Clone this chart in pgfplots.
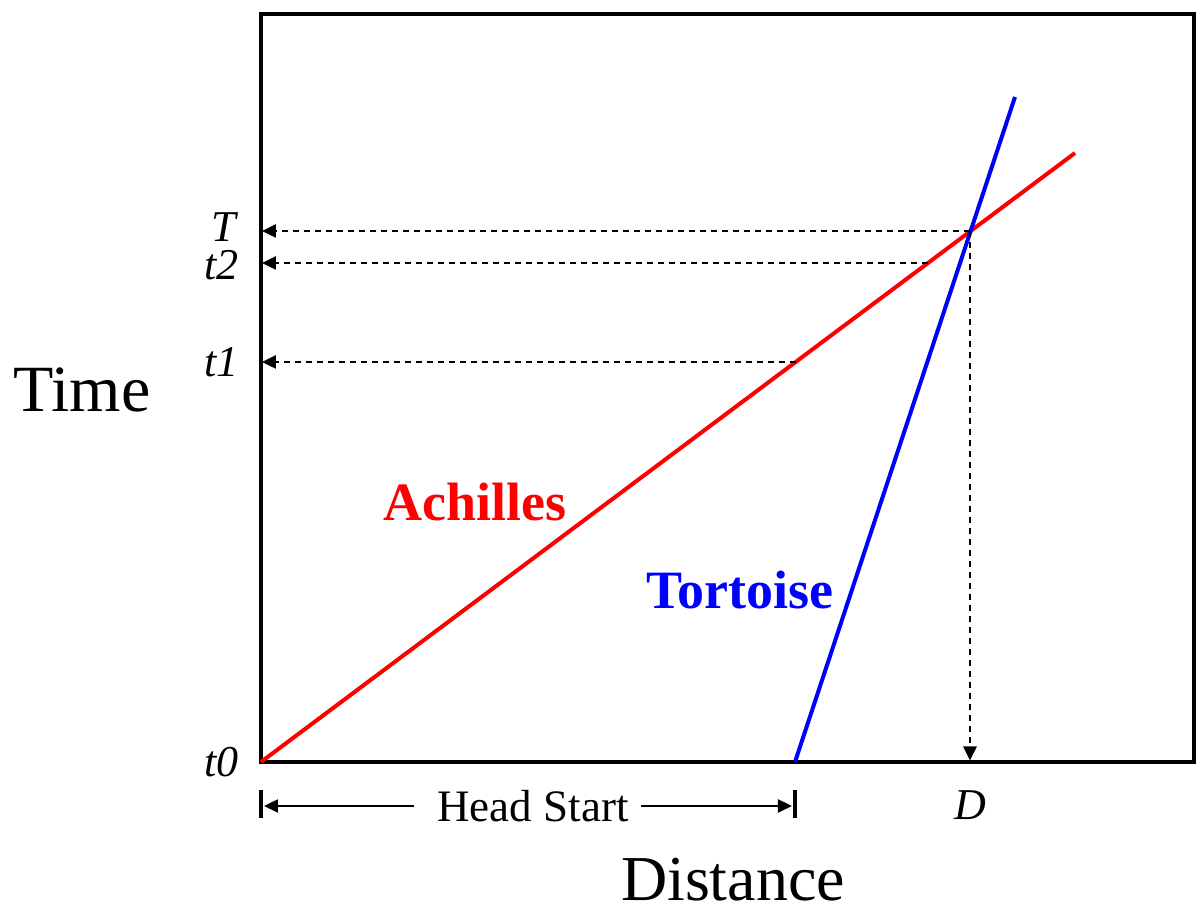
\documentclass[border=0pt]{standalone}
\usepackage{pgfplots}
\pgfplotsset{compat=1.18}
\usepackage{fontspec}
\setmainfont{Liberation Serif}
\usetikzlibrary{arrows.meta}
\begin{document}
\begin{tikzpicture}
\begin{axis}[
  x=0.5pt, y=0.5pt,
  xmin=0, xmax=933, ymin=0, ymax=748,
  axis line style={line width=1.75pt},
  clip=false,
  xtick={709}, xticklabels={\textit{D}},
  ytick={0,400,497,535},
  yticklabels={\textit{t0},\textit{t1},\textit{t2},\textit{T}},
  major tick length=0pt,
  tick label style={font=\fontsize{22}{26}\selectfont},
  xticklabel style={inner sep=0pt, anchor=north, yshift=-14pt},
  yticklabel style={inner sep=0pt, anchor=east, xshift=-11pt},
]
% Achilles and Tortoise
\addplot[red, line width=2pt] coordinates {(0,0) (814,609)};
\addplot[blue, line width=2pt] coordinates {(534,0) (754,665)};
% dashed guide arrows
\addplot[black, line width=1.3pt, dash pattern=on 3pt off 2.5pt, -{Triangle[length=7pt,width=6.5pt]}] coordinates {(709,531) (1,531)};
\addplot[black, line width=1.3pt, dash pattern=on 3pt off 2.5pt, -{Triangle[length=7pt,width=6.5pt]}] coordinates {(667,499) (1,499)};
\addplot[black, line width=1.3pt, dash pattern=on 3pt off 2.5pt, -{Triangle[length=7pt,width=6.5pt]}] coordinates {(535,400) (1,400)};
\addplot[black, line width=1.3pt, dash pattern=on 3pt off 2.5pt, -{Triangle[length=7pt,width=6.5pt]}] coordinates {(709,531) (709,1.5)};
% head start bracket
\draw[line width=1.75pt] (axis cs:0,-28) -- (axis cs:0,-56);
\draw[line width=1.75pt] (axis cs:534,-28) -- (axis cs:534,-56);
\draw[line width=1.1pt, -{Triangle[length=7pt,width=6.5pt]}] (axis cs:153,-44) -- (axis cs:3,-44);
\draw[line width=1.1pt, -{Triangle[length=7pt,width=6.5pt]}] (axis cs:380,-44) -- (axis cs:531,-44);
\node[font=\fontsize{22.5}{27}\selectfont, inner sep=0pt] at (axis cs:272,-44) {Head Start};
% labels
\node[red, font=\fontsize{27}{32}\selectfont\bfseries, inner sep=0pt] at (axis cs:214,260) {Achilles};
\node[blue, font=\fontsize{27}{32}\selectfont\bfseries, inner sep=0pt] at (axis cs:479,172) {Tortoise};
\node[font=\fontsize{33}{38}\selectfont, inner sep=0pt] at (axis cs:-179,372) {Time};
\node[font=\fontsize{32}{37}\selectfont, inner sep=0pt] at (axis cs:472,-118) {Distance};
\coordinate (bb1) at (axis cs:-261,-151);
\coordinate (bb2) at (axis cs:935,762);
\end{axis}
\path (bb1) rectangle (bb2);
\end{tikzpicture}
\end{document}
